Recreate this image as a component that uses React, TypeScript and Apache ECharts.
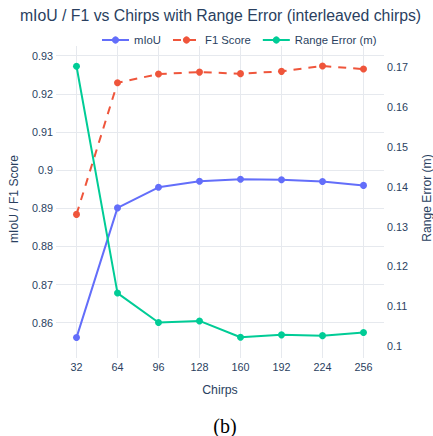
import React, { useEffect, useRef } from 'react';
import * as echarts from 'echarts';

const chirps = ['32', '64', '96', '128', '160', '192', '224', '256'];
const miou = [0.8561, 0.8901, 0.8955, 0.8971, 0.8976, 0.8975, 0.897, 0.896];
const f1Score = [0.8884, 0.9229, 0.9252, 0.9257, 0.9253, 0.9259, 0.9273, 0.9265];
const rangeError = [0.1703, 0.1133, 0.1059, 0.1063, 0.1022, 0.1028, 0.1026, 0.1034];

const FONT = '"Liberation Sans", Arial, sans-serif';
const TXT = '#2a3f5f';
const GRID = '#e6e9ee';

const fmt = (v: number) =>
  Math.abs(v * 100 - Math.round(v * 100)) < 1e-6 ? String(+v.toFixed(2)) : '';

export default function App() {
  const ref = useRef<HTMLDivElement>(null);
  useEffect(() => {
    if (!ref.current) return;
    const chart = echarts.init(ref.current, undefined, { renderer: 'svg' });
    chart.setOption({
      animation: false,
      backgroundColor: '#ffffff',
      textStyle: { fontFamily: FONT },
      graphic: [
        {
          type: 'text',
          x: 220.5,
          y: 15,
          style: {
            text: 'mIoU / F1 vs Chirps with Range Error (interleaved chirps)',
            fill: TXT,
            font: `15.8px ${FONT}`,
            textAlign: 'center',
            textVerticalAlign: 'middle',
          },
        },
        {
          type: 'text',
          x: 220,
          y: 390,
          style: {
            text: 'Chirps',
            fill: TXT,
            font: `12.3px ${FONT}`,
            textAlign: 'center',
            textVerticalAlign: 'middle',
          },
        },
        {
          type: 'text',
          x: 13.5,
          y: 199,
          rotation: Math.PI / 2,
          style: {
            text: 'mIoU / F1 Score',
            fill: TXT,
            font: `12.1px ${FONT}`,
            textAlign: 'center',
            textVerticalAlign: 'middle',
          },
        },
        {
          type: 'text',
          x: 426.5,
          y: 198,
          rotation: Math.PI / 2,
          style: {
            text: 'Range Error (m)',
            fill: TXT,
            font: `12.1px ${FONT}`,
            textAlign: 'center',
            textVerticalAlign: 'middle',
          },
        },
        {
          type: 'text',
          x: 225,
          y: 426,
          style: {
            text: '(b)',
            fill: '#000000',
            font: `20px "Liberation Serif", "DejaVu Serif", serif`,
            textAlign: 'center',
            textVerticalAlign: 'middle',
          },
        },
      ],
      legend: {
        top: 29.5,
        left: 96,
        itemWidth: 27,
        itemHeight: 9,
        itemGap: 11,
        textStyle: { color: TXT, fontSize: 11.3, fontFamily: FONT },
        data: ['mIoU', 'F1 Score', 'Range Error (m)'],
      },
      grid: { left: 56, right: 49, top: 46, bottom: 78 },
      xAxis: {
        type: 'category',
        data: chirps,
        boundaryGap: true,
        axisLine: { show: false },
        axisTick: { show: false },
        axisLabel: { color: TXT, fontSize: 10.8, margin: 3, fontFamily: FONT },
        splitLine: { show: true, alignWithLabel: true, lineStyle: { color: GRID, width: 1 } },
      },
      yAxis: [
        {
          type: 'value',
          min: 0.850745,
          max: 0.932549,
          splitNumber: 8,
          axisLine: { show: false },
          axisTick: { show: false },
          axisLabel: { color: TXT, fontSize: 10.8, margin: 3, formatter: fmt, fontFamily: FONT },
          splitLine: { show: true, showMinLine: false, showMaxLine: false, lineStyle: { color: GRID, width: 1 } },
        },
        {
          type: 'value',
          position: 'right',
          min: 0.096985,
          max: 0.175377,
          splitNumber: 8,
          axisLine: { show: false },
          axisTick: { show: false },
          axisLabel: { color: TXT, fontSize: 10.8, margin: 3, formatter: fmt, fontFamily: FONT },
          splitLine: { show: false },
        },
      ],
      series: [
        {
          name: 'mIoU',
          type: 'line',
          yAxisIndex: 0,
          data: miou,
          symbol: 'circle',
          symbolSize: 7,
          lineStyle: { color: '#636efa', width: 2 },
          itemStyle: { color: '#636efa' },
        },
        {
          name: 'F1 Score',
          type: 'line',
          yAxisIndex: 0,
          data: f1Score,
          symbol: 'circle',
          symbolSize: 7,
          lineStyle: { color: '#ef553b', width: 2, type: [8, 7] },
          itemStyle: { color: '#ef553b' },
        },
        {
          name: 'Range Error (m)',
          type: 'line',
          yAxisIndex: 1,
          data: rangeError,
          symbol: 'circle',
          symbolSize: 7,
          lineStyle: { color: '#00cc96', width: 2 },
          itemStyle: { color: '#00cc96' },
        },
      ],
    });
    return () => chart.dispose();
  }, []);
  return (
    <div
      ref={ref}
      style={{ position: 'fixed', left: 0, top: 0, width: 433, height: 436, background: '#fff' }}
    />
  );
}
